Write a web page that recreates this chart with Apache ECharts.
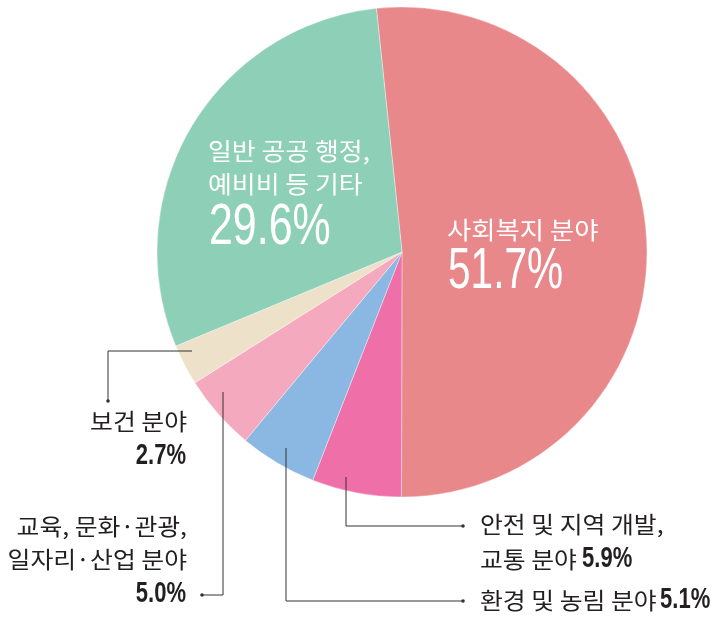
<!DOCTYPE html>
<html>
<head>
<meta charset="utf-8">
<script src="https://cdn.jsdelivr.net/npm/echarts@6/dist/echarts.min.js"></script>
<style>
html,body{margin:0;padding:0;background:#fff;}
#c{width:724px;height:623px;}
</style>
</head>
<body>
<div id="c"></div>
<script>
const categories = ['사회복지 분야', '안전 및 지역 개발, 교통 분야', '환경 및 농림 분야', '교육, 문화·관광, 일자리·산업 분야', '보건 분야', '일반 공공 행정, 예비비 등 기타'];
const values = [51.7, 5.9, 5.1, 5.0, 2.7, 29.6];
const colors = ['#E8888A', '#EF70A8', '#8AB8E2', '#F4A9BE', '#EDE1C9', '#8ECFB8'];
const valueLabels = values.map(v => v.toFixed(1) + '%');

const KR = '"Noto Sans CJK KR", sans-serif';
const NUM = '"Liberation Sans", Arial, sans-serif';
const dark = '#231F20';
const KX = 1.08;   // horizontal stretch for Korean text
const BX = 0.76;   // horizontal squeeze for bold numbers

function txt(x, y, text, font, fill, align, sx) {
  return { type: 'text', x: x, y: y, z: 100, silent: true, scaleX: sx || 1,
    style: { text: text, font: font, fill: fill, align: align || 'left', verticalAlign: 'middle' } };
}
function line(points) {
  return { type: 'polyline', z: 100, silent: true, shape: { points: points },
    style: { stroke: '#333', lineWidth: 1, fill: null } };
}
function dot(x, y) {
  return { type: 'circle', z: 100, silent: true, shape: { cx: x, cy: y, r: 1.8 }, style: { fill: '#333' } };
}

const chart = echarts.init(document.getElementById('c'), null, { renderer: 'canvas' });
chart.setOption({
  animation: false,
  backgroundColor: '#fff',
  series: [{
    type: 'pie',
    center: [402, 252],
    radius: [0, 245],
    startAngle: 96,
    clockwise: true,
    silent: true,
    label: { show: false },
    labelLine: { show: false },
    itemStyle: { borderColor: 'rgba(255,255,255,0.6)', borderWidth: 0.6 },
    data: categories.map((c, i) => ({ name: c, value: values[i], itemStyle: { color: colors[i] } }))
  }],
  graphic: [
    // inside labels
    txt(447, 230, '사회복지 분야', '24px ' + KR, '#fff', 'left', 1.1),
    txt(448, 272, valueLabels[0], '58px ' + NUM, '#fff', 'left', 0.70),
    txt(208, 151, '일반 공공 행정,', '24px ' + KR, '#fff', 'left', KX),
    txt(208, 184, '예비비 등 기타', '24px ' + KR, '#fff', 'left', KX),
    txt(209, 228, valueLabels[5], '58px ' + NUM, '#fff', 'left', 0.74),
    // 보건
    line([[192, 351], [108, 351], [108, 401]]), dot(108, 401),
    txt(187, 421, '보건 분야', '23px ' + KR, dark, 'right', KX),
    txt(186, 456, valueLabels[4], 'bold 29px ' + NUM, dark, 'right', BX),
    // 교육
    line([[223, 392], [223, 595], [202, 595]]), dot(202, 595),
    txt(187, 526, '교육, 문화·관광,', '23px ' + KR, dark, 'right', KX),
    txt(187, 559, '일자리·산업 분야', '23px ' + KR, dark, 'right', KX),
    txt(186, 594, valueLabels[3], 'bold 29px ' + NUM, dark, 'right', BX),
    // 안전
    line([[346, 477], [346, 526], [463, 526]]), dot(463, 526),
    txt(480, 524, '안전 및 지역 개발,', '23px ' + KR, dark, 'left', KX),
    txt(480, 559, '교통 분야', '23px ' + KR, dark, 'left', KX),
    txt(582, 559, valueLabels[1], 'bold 29px ' + NUM, dark, 'left', BX),
    // 환경
    line([[286, 448], [286, 601], [463, 601]]), dot(463, 601),
    txt(480, 600, '환경 및 농림 분야', '23px ' + KR, dark, 'left', KX),
    txt(660, 600, valueLabels[2], 'bold 29px ' + NUM, dark, 'left', BX)
  ]
});
</script>
</body>
</html>
